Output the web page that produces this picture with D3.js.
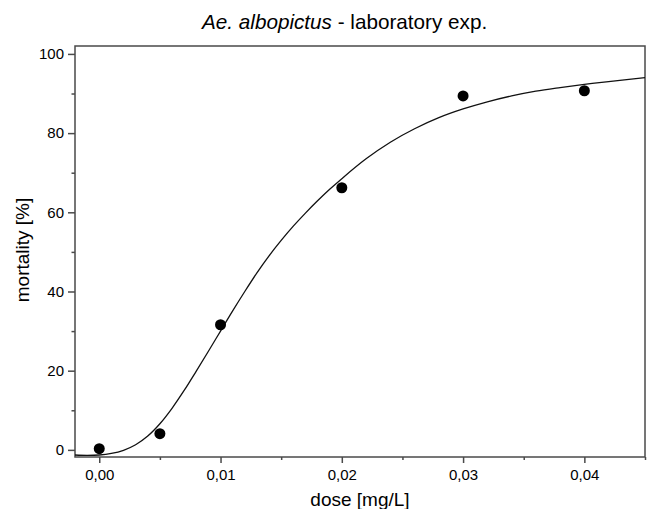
<!DOCTYPE html>
<html>
<head>
<meta charset="utf-8">
<script src="https://cdn.jsdelivr.net/npm/d3@7"></script>
<style>
    body { margin: 0; background: #fff; }
    svg { font-family: "Liberation Sans", Arial, sans-serif; }
</style>
</head>
<body>
<div id="chart"></div>
<script>
// measured points
const doses = [0, 0.005, 0.01, 0.02, 0.03, 0.04];
const mortality = [0.3, 4.1, 31.6, 66.2, 89.4, 90.7];

// fitted curve
const fitDoses = [-0.002, -0.001, 0, 0.001, 0.002, 0.003, 0.004, 0.005, 0.006, 0.007, 0.008, 0.009,
    0.010, 0.011, 0.012, 0.013, 0.014, 0.015, 0.016, 0.017, 0.018, 0.019, 0.020, 0.022,
    0.024, 0.026, 0.028, 0.030, 0.032, 0.034, 0.036, 0.038, 0.040, 0.042, 0.045];
const fitMortality = [-1.3, -1.4, -1.3, -0.9, -0.1, 1.3, 3.5, 6.6, 10.5, 15.0, 19.9, 24.9,
    30.0, 35.1, 40.0, 44.7, 49.0, 52.9, 56.5, 59.8, 62.9, 65.8, 68.5, 73.5,
    77.7, 81.1, 83.9, 86.1, 87.9, 89.4, 90.6, 91.5, 92.3, 93.0, 94.0];

// tick values
const xTicks = [0, 0.01, 0.02, 0.03, 0.04];
const xMinorTicks = [0.005, 0.015, 0.025, 0.035, 0.045];
const yTicks = [0, 20, 40, 60, 80, 100];
const yMinorTicks = [10, 30, 50, 70, 90];

const margin = { top: 46, right: 2, bottom: 52, left: 75 };
const width = 647 - margin.left - margin.right;
const height = 509 - margin.top - margin.bottom;

const svg = d3.select("#chart")
    .append("svg")
    .attr("width", 647)
    .attr("height", 509);

const g = svg.append("g")
    .attr("transform", `translate(${margin.left},${margin.top})`);

// scales
const xScale = d3.scaleLinear().domain([-0.002, 0.045]).range([0, width]);
const yScale = d3.scaleLinear().domain([-1.8, 102]).range([height, 0]);

const frameColor = "#4a4a4a";

// minor ticks first so major axes draw over them
g.append("g")
    .attr("transform", `translate(0,${height})`)
    .call(d3.axisBottom(xScale).tickValues(xMinorTicks).tickSize(3).tickFormat(""))
    .call(a => a.select(".domain").remove());

g.append("g")
    .call(d3.axisLeft(yScale).tickValues(yMinorTicks).tickSize(3.5).tickFormat(""))
    .call(a => a.select(".domain").remove());

// major axes
const commaFmt = d => d3.format(".2f")(d).replace(".", ",");

const xAxis = g.append("g")
    .attr("transform", `translate(0,${height})`)
    .call(d3.axisBottom(xScale).tickValues(xTicks).tickSize(6).tickPadding(6).tickSizeOuter(0).tickFormat(commaFmt));

const yAxis = g.append("g")
    .call(d3.axisLeft(yScale).tickValues(yTicks).tickSize(7).tickPadding(4).tickSizeOuter(0));

[xAxis, yAxis].forEach(a => {
    a.selectAll("text").attr("font-size", "15px").attr("fill", "#000");
    a.select(".domain").remove();
});
g.selectAll(".tick line").attr("stroke", frameColor).attr("stroke-width", 1.5);

// box around the plot area
g.append("rect")
    .attr("width", width)
    .attr("height", height)
    .attr("fill", "none")
    .attr("stroke", frameColor)
    .attr("stroke-width", 1.5);

// fitted curve
const fitData = fitDoses.map((d, i) => ({ x: d, y: fitMortality[i] }));
const line = d3.line()
    .x(d => xScale(d.x))
    .y(d => yScale(d.y))
    .curve(d3.curveCatmullRom);

g.append("path")
    .datum(fitData)
    .attr("fill", "none")
    .attr("stroke", "#111")
    .attr("stroke-width", 1.3)
    .attr("d", line);

// data points
g.selectAll(".dot")
    .data(doses.map((d, i) => ({ x: d, y: mortality[i] })))
    .enter()
    .append("circle")
    .attr("class", "dot")
    .attr("cx", d => xScale(d.x))
    .attr("cy", d => yScale(d.y))
    .attr("r", 5.5)
    .attr("fill", "#000");

// title
const title = svg.append("text")
    .attr("x", 202)
    .attr("y", 29)
    .attr("font-size", "20.7px")
    .attr("fill", "#000");
title.append("tspan").attr("font-style", "italic").text("Ae. albopictus");
title.append("tspan").text(" - laboratory exp.");

// axis labels
svg.append("text")
    .attr("text-anchor", "middle")
    .attr("x", margin.left + width / 2)
    .attr("y", 506)
    .attr("font-size", "19px")
    .attr("fill", "#000")
    .text("dose [mg/L]");

svg.append("text")
    .attr("text-anchor", "middle")
    .attr("transform", "rotate(-90)")
    .attr("x", -250)
    .attr("y", 29)
    .attr("font-size", "19px")
    .attr("fill", "#000")
    .text("mortality [%]");
</script>
</body>
</html>
